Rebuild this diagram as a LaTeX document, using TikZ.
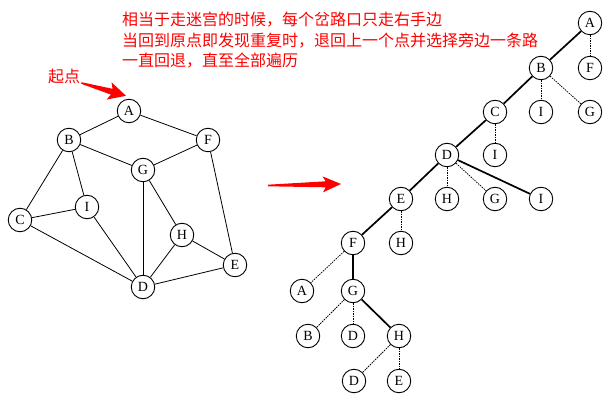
\documentclass[tikz,border=0pt]{standalone}
\usepackage{fontspec}
\setmainfont{Liberation Serif}
\newfontfamily\cjk{Noto Sans CJK SC}
\usetikzlibrary{
    calc
}

\begin{document}
\begin{tikzpicture}[
    x=1pt, y=-1pt,
    vertex/.style={circle, draw, line width=0.9pt, minimum size=23.5pt, inner sep=0pt, fill=white, font=\fontsize{14}{14}\selectfont},
    edge/.style={line width=0.8pt},
    walk/.style={line width=1.7pt},
    back/.style={line width=0.75pt, dash pattern=on 1.5pt off 1pt},
    note/.style={red, anchor=west, inner sep=0pt, font=\cjk\fontsize{16}{16}\selectfont}
]
\useasboundingbox (0,0) rectangle (612,403);

% Explanation
\node[note] (line1) at (122,20) {相当于走迷宫的时候，每个岔路口只走右手边};
\node[note] (line2) at (122,40.5) {当回到原点即发现重复时，退回上一个点并选择旁边一条路};
\node[note] (line3) at (122,61) {一直回退，直至全部遍历};

% Graph
\node[vertex] (A) at (129,111) {A};
\node[vertex] (B) at (69,140) {B};
\node[vertex] (F) at (208,140) {F};
\node[vertex] (G) at (143,170) {G};
\node[vertex] (I) at (87,207) {I};
\node[vertex] (C) at (20,220) {C};
\node[vertex] (H) at (182,235) {H};
\node[vertex] (E) at (235,265) {E};
\node[vertex] (D) at (143,287) {D};

\draw[edge] (A) -- (B);
\draw[edge] (A) -- (F);
\draw[edge] (B) -- (G);
\draw[edge] (F) -- (G);
\draw[edge] (B) -- (C);
\draw[edge] (B) -- (I);
\draw[edge] (C) -- (I);
\draw[edge] (C) -- (D);
\draw[edge] (I) -- (D);
\draw[edge] (G) -- (D);
\draw[edge] (G) -- (H);
\draw[edge] (H) -- (D);
\draw[edge] (H) -- (E);
\draw[edge] (F) -- (E);
\draw[edge] (D) -- (E);

% Start mark
\node[note] (start) at (48,76) {起点};
\coordinate (s0) at ($(start.east)+(1,7)$);
\coordinate (s1) at ($(A.north)+(-3,-3)$);
\fill[red] ($(s0)!0.8pt!90:(s1)$) -- ($(s0)!0.68!(s1)!3pt!90:(s1)$) -- ($(s0)!0.62!(s1)!9pt!90:(s1)$) -- (s1)
    -- ($(s0)!0.62!(s1)!9pt!-90:(s1)$) -- ($(s0)!0.68!(s1)!3pt!-90:(s1)$) -- ($(s0)!0.8pt!-90:(s1)$) -- cycle;

% Arrow between
\coordinate (m0) at (268,185.5);
\coordinate (m1) at (341,184);
\fill[red] ($(m0)!0.8pt!90:(m1)$) -- ($(m0)!0.79!(m1)!3pt!90:(m1)$) -- ($(m0)!0.75!(m1)!8pt!90:(m1)$) -- (m1)
    -- ($(m0)!0.75!(m1)!8pt!-90:(m1)$) -- ($(m0)!0.79!(m1)!3pt!-90:(m1)$) -- ($(m0)!0.8pt!-90:(m1)$) -- cycle;

% Search tree
\node[vertex] (tA) at (590,23) {A};
\node[vertex] (tB) at (541,68) {B};
\node[vertex] (tBF) at (590,68) {F};
\node[vertex] (tC) at (495,112) {C};
\node[vertex] (tBI) at (541,112) {I};
\node[vertex] (tBG) at (590,112) {G};
\node[vertex] (tD) at (447,155) {D};
\node[vertex] (tCI) at (495,155) {I};
\node[vertex] (tE) at (401,199) {E};
\node[vertex] (tDH) at (447,199) {H};
\node[vertex] (tDG) at (495,199) {G};
\node[vertex] (tDI) at (541,199) {I};
\node[vertex] (tF) at (353,243) {F};
\node[vertex] (tEH) at (401,243) {H};
\node[vertex] (tFA) at (302,291) {A};
\node[vertex] (tG) at (353,291) {G};
\node[vertex] (tGB) at (308,336) {B};
\node[vertex] (tGD) at (353,336) {D};
\node[vertex] (tH) at (399,336) {H};
\node[vertex] (tHD) at (354,381) {D};
\node[vertex] (tHE) at (399,381) {E};

\draw[walk] (tA) -- (tB);
\draw[walk] (tB) -- (tC);
\draw[walk] (tC) -- (tD);
\draw[walk] (tD) -- (tE);
\draw[walk] (tD) -- (tDI);
\draw[walk] (tE) -- (tF);
\draw[walk] (tF) -- (tG);
\draw[walk] (tG) -- (tH);

\draw[back] (tA) -- (tBF);
\draw[back] (tB) -- (tBI);
\draw[back] (tB) -- (tBG);
\draw[back] (tC) -- (tCI);
\draw[back] (tD) -- (tDH);
\draw[back] (tD) -- (tDG);
\draw[back] (tE) -- (tEH);
\draw[back] (tF) -- (tFA);
\draw[back] (tG) -- (tGB);
\draw[back] (tG) -- (tGD);
\draw[back] (tH) -- (tHD);
\draw[back] (tH) -- (tHE);
\end{tikzpicture}
\end{document}
